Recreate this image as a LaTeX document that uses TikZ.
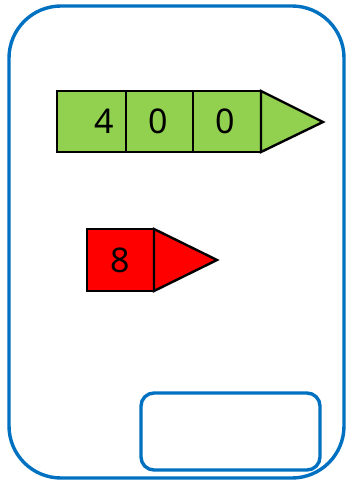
\documentclass[tikz,border=0pt]{standalone}
\usepackage{fontspec}
\setmainfont{Noto Sans}
\definecolor{frameblue}{HTML}{0070C0}
\definecolor{cellgreen}{HTML}{92D050}
\begin{document}
\begin{tikzpicture}[x=1pt,y=-1pt,
  frame/.style={draw=frameblue,line width=3.4pt},
  cell/.style={draw=black,line width=2.4pt,line join=miter},
  digit/.style={font=\fontsize{34}{34}\selectfont,inner sep=0pt,anchor=base}]
\useasboundingbox (0,0) rectangle (346,481);
% outer card
\draw[frame,rounded corners=52pt] (9,6) rectangle (344,478);
% green number arrow
\path[cell,fill=cellgreen] (57,91) rectangle (126,152);
\path[cell,fill=cellgreen] (126,91) rectangle (193,152);
\path[cell,fill=cellgreen] (193,91) rectangle (261,152);
\path[cell,fill=cellgreen] (261,91) -- (323,122) -- (261,152) -- cycle;
\node[digit] (d4) at (104,134) {4};
\node[digit] (d0a) at (158,134) {0};
\node[digit] (d0b) at (225,134) {0};
% red arrow
\path[cell,fill=red] (87,229) rectangle (154,291);
\path[cell,fill=red] (154,229) -- (217,260) -- (154,291) -- cycle;
\node[digit] (d8) at (120,272) {8};
% answer box
\draw[frame,rounded corners=13pt] (141,393) rectangle (320,470);
\end{tikzpicture}
\end{document}
